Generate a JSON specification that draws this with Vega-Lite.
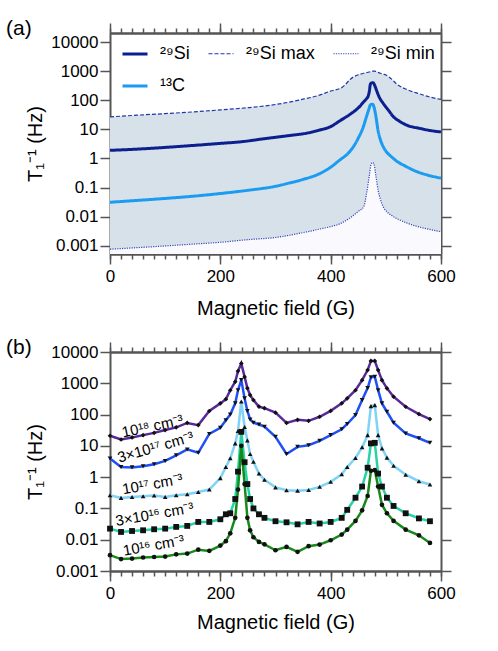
{
"$schema":"https://vega.github.io/schema/vega-lite/v6.json",
"padding":{"left":6,"top":18,"right":5,"bottom":5},
"config":{
 "font":"Liberation Sans",
 "view":{"stroke":null},
 "axis":{"grid":false,"domain":true,"domainColor":"#555","domainWidth":2,"tickColor":"#555","tickWidth":1.5,"labelFlush":false,"labelFont":"Liberation Sans","labelFontSize":17,"labelColor":"#000","titleFont":"Liberation Sans","titleFontSize":20,"titleFontWeight":"normal","titleColor":"#000","zindex":1},
 "legend":{"labelFont":"Liberation Sans","labelFontSize":18,"labelColor":"#000"},
 "title":{"font":"Liberation Sans","fontSize":21,"fontWeight":"normal","color":"#000","anchor":"start","frame":"group"}
},
"resolve":{"scale":{"color":"independent","shape":"independent","strokeDash":"independent","strokeWidth":"independent"}},
"datasets":{
"a":[
{"s":"si_max","B":0,"T":27},{"s":"si_max","B":50,"T":31},{"s":"si_max","B":100,"T":35},{"s":"si_max","B":150,"T":40},{"s":"si_max","B":200,"T":47},{"s":"si_max","B":250,"T":56},{"s":"si_max","B":300,"T":72},{"s":"si_max","B":350,"T":110},{"s":"si_max","B":380,"T":152},{"s":"si_max","B":400,"T":210},{"s":"si_max","B":420,"T":275},{"s":"si_max","B":440,"T":620},{"s":"si_max","B":450,"T":760},{"s":"si_max","B":460,"T":860},{"s":"si_max","B":465,"T":900},{"s":"si_max","B":470,"T":950},{"s":"si_max","B":473,"T":980},{"s":"si_max","B":476,"T":1010},{"s":"si_max","B":479,"T":1020},{"s":"si_max","B":482,"T":990},{"s":"si_max","B":486,"T":920},{"s":"si_max","B":490,"T":860},{"s":"si_max","B":495,"T":800},{"s":"si_max","B":500,"T":750},{"s":"si_max","B":510,"T":550},{"s":"si_max","B":520,"T":360},{"s":"si_max","B":540,"T":230},{"s":"si_max","B":560,"T":170},{"s":"si_max","B":580,"T":130},{"s":"si_max","B":600,"T":108},
{"s":"si_min","B":0,"T":0.00075},{"s":"si_min","B":50,"T":0.00085},{"s":"si_min","B":100,"T":0.00097},{"s":"si_min","B":150,"T":0.00112},{"s":"si_min","B":200,"T":0.0013},{"s":"si_min","B":250,"T":0.0016},{"s":"si_min","B":300,"T":0.0019},{"s":"si_min","B":350,"T":0.0028},{"s":"si_min","B":380,"T":0.0037},{"s":"si_min","B":400,"T":0.0045},{"s":"si_min","B":420,"T":0.006},{"s":"si_min","B":440,"T":0.0105},{"s":"si_min","B":450,"T":0.015},{"s":"si_min","B":460,"T":0.022},{"s":"si_min","B":465,"T":0.06},{"s":"si_min","B":470,"T":0.25},{"s":"si_min","B":473,"T":0.6},{"s":"si_min","B":476,"T":0.73},{"s":"si_min","B":479,"T":0.58},{"s":"si_min","B":482,"T":0.25},{"s":"si_min","B":486,"T":0.08},{"s":"si_min","B":490,"T":0.04},{"s":"si_min","B":495,"T":0.022},{"s":"si_min","B":500,"T":0.016},{"s":"si_min","B":510,"T":0.011},{"s":"si_min","B":520,"T":0.0085},{"s":"si_min","B":540,"T":0.0058},{"s":"si_min","B":560,"T":0.0044},{"s":"si_min","B":580,"T":0.0036},{"s":"si_min","B":600,"T":0.003},
{"s":"si","B":0,"T":1.9},{"s":"si","B":50,"T":2.1},{"s":"si","B":100,"T":2.4},{"s":"si","B":150,"T":2.8},{"s":"si","B":200,"T":3.3},{"s":"si","B":240,"T":3.8},{"s":"si","B":280,"T":4.8},{"s":"si","B":320,"T":6.0},{"s":"si","B":356,"T":7.4},{"s":"si","B":380,"T":9.5},{"s":"si","B":400,"T":12.5},{"s":"si","B":417,"T":20},{"s":"si","B":435,"T":33},{"s":"si","B":450,"T":55},{"s":"si","B":459,"T":85},{"s":"si","B":465,"T":115},{"s":"si","B":468,"T":140},{"s":"si","B":470,"T":200},{"s":"si","B":472,"T":360},{"s":"si","B":474,"T":400},{"s":"si","B":477,"T":405},{"s":"si","B":480,"T":320},{"s":"si","B":483,"T":226},{"s":"si","B":488,"T":130},{"s":"si","B":495,"T":80},{"s":"si","B":505,"T":45},{"s":"si","B":514,"T":27},{"s":"si","B":525,"T":19},{"s":"si","B":538,"T":14},{"s":"si","B":562,"T":10.8},{"s":"si","B":580,"T":9.2},{"s":"si","B":600,"T":8.2},
{"s":"c","B":0,"T":0.031},{"s":"c","B":50,"T":0.036},{"s":"c","B":100,"T":0.042},{"s":"c","B":150,"T":0.05},{"s":"c","B":200,"T":0.062},{"s":"c","B":250,"T":0.08},{"s":"c","B":300,"T":0.11},{"s":"c","B":326,"T":0.144},{"s":"c","B":350,"T":0.19},{"s":"c","B":380,"T":0.3},{"s":"c","B":400,"T":0.5},{"s":"c","B":417,"T":0.9},{"s":"c","B":430,"T":1.4},{"s":"c","B":441,"T":2.5},{"s":"c","B":450,"T":5},{"s":"c","B":459,"T":12},{"s":"c","B":465,"T":28},{"s":"c","B":469,"T":48},{"s":"c","B":472,"T":70},{"s":"c","B":476,"T":74},{"s":"c","B":479,"T":55},{"s":"c","B":482,"T":28},{"s":"c","B":486,"T":9},{"s":"c","B":490,"T":4.5},{"s":"c","B":495,"T":2.6},{"s":"c","B":500,"T":1.8},{"s":"c","B":510,"T":1.15},{"s":"c","B":520,"T":0.8},{"s":"c","B":535,"T":0.55},{"s":"c","B":555,"T":0.36},{"s":"c","B":575,"T":0.27},{"s":"c","B":600,"T":0.21}
],
"b":[
{"s":"18","B":0,"T":21},{"s":"18","B":20,"T":16},{"s":"18","B":40,"T":18.6},{"s":"18","B":60,"T":22},{"s":"18","B":80,"T":26},{"s":"18","B":100,"T":32},{"s":"18","B":120,"T":39},{"s":"18","B":140,"T":54},{"s":"18","B":160,"T":46},{"s":"18","B":180,"T":130},{"s":"18","B":200,"T":228},{"s":"18","B":210,"T":310},{"s":"18","B":218,"T":600},{"s":"18","B":227,"T":1120},{"s":"18","B":232,"T":2450},{"s":"18","B":238,"T":4300},{"s":"18","B":244,"T":1600},{"s":"18","B":249,"T":700},{"s":"18","B":254,"T":420},{"s":"18","B":260,"T":290},{"s":"18","B":270,"T":180},{"s":"18","B":280,"T":160},{"s":"18","B":300,"T":115},{"s":"18","B":320,"T":54},{"s":"18","B":340,"T":68},{"s":"18","B":360,"T":63},{"s":"18","B":380,"T":85},{"s":"18","B":400,"T":131},{"s":"18","B":420,"T":228},{"s":"18","B":430,"T":330},{"s":"18","B":445,"T":600},{"s":"18","B":457,"T":1260},{"s":"18","B":467,"T":2640},{"s":"18","B":473,"T":5200},{"s":"18","B":480,"T":5200},{"s":"18","B":486,"T":2640},{"s":"18","B":493,"T":1260},{"s":"18","B":502,"T":690},{"s":"18","B":514,"T":373},{"s":"18","B":536,"T":178},{"s":"18","B":560,"T":104},{"s":"18","B":580,"T":72},
{"s":"3e17","B":0,"T":3.96},{"s":"3e17","B":20,"T":2.1},{"s":"3e17","B":40,"T":2.05},{"s":"3e17","B":60,"T":2.24},{"s":"3e17","B":80,"T":2.6},{"s":"3e17","B":100,"T":3.3},{"s":"3e17","B":120,"T":5},{"s":"3e17","B":140,"T":7.7},{"s":"3e17","B":160,"T":6},{"s":"3e17","B":180,"T":24},{"s":"3e17","B":200,"T":38},{"s":"3e17","B":210,"T":66},{"s":"3e17","B":218,"T":100},{"s":"3e17","B":227,"T":228},{"s":"3e17","B":232,"T":600},{"s":"3e17","B":238,"T":1260},{"s":"3e17","B":244,"T":330},{"s":"3e17","B":249,"T":130},{"s":"3e17","B":254,"T":70},{"s":"3e17","B":260,"T":55},{"s":"3e17","B":270,"T":48},{"s":"3e17","B":280,"T":41},{"s":"3e17","B":300,"T":19.5},{"s":"3e17","B":320,"T":5.5},{"s":"3e17","B":340,"T":9.3},{"s":"3e17","B":360,"T":10.5},{"s":"3e17","B":380,"T":14.5},{"s":"3e17","B":400,"T":22},{"s":"3e17","B":420,"T":34},{"s":"3e17","B":430,"T":50},{"s":"3e17","B":445,"T":96},{"s":"3e17","B":457,"T":290},{"s":"3e17","B":467,"T":700},{"s":"3e17","B":473,"T":1550},{"s":"3e17","B":480,"T":1620},{"s":"3e17","B":486,"T":600},{"s":"3e17","B":493,"T":228},{"s":"3e17","B":502,"T":123},{"s":"3e17","B":514,"T":55},{"s":"3e17","B":536,"T":25},{"s":"3e17","B":560,"T":17.5},{"s":"3e17","B":580,"T":12.5},
{"s":"17","B":0,"T":0.265},{"s":"17","B":20,"T":0.217},{"s":"17","B":40,"T":0.233},{"s":"17","B":60,"T":0.245},{"s":"17","B":80,"T":0.258},{"s":"17","B":100,"T":0.233},{"s":"17","B":120,"T":0.265},{"s":"17","B":140,"T":0.285},{"s":"17","B":160,"T":0.337},{"s":"17","B":180,"T":0.4},{"s":"17","B":200,"T":0.93},{"s":"17","B":210,"T":2.1},{"s":"17","B":218,"T":4},{"s":"17","B":227,"T":12},{"s":"17","B":232,"T":30},{"s":"17","B":238,"T":260},{"s":"17","B":244,"T":40},{"s":"17","B":249,"T":15},{"s":"17","B":254,"T":5.5},{"s":"17","B":260,"T":3.1},{"s":"17","B":270,"T":1.3},{"s":"17","B":280,"T":0.82},{"s":"17","B":300,"T":0.47},{"s":"17","B":320,"T":0.38},{"s":"17","B":340,"T":0.37},{"s":"17","B":360,"T":0.39},{"s":"17","B":380,"T":0.49},{"s":"17","B":400,"T":0.71},{"s":"17","B":420,"T":1.24},{"s":"17","B":430,"T":2.1},{"s":"17","B":445,"T":4.1},{"s":"17","B":457,"T":9},{"s":"17","B":467,"T":22},{"s":"17","B":473,"T":186},{"s":"17","B":480,"T":200},{"s":"17","B":486,"T":22},{"s":"17","B":493,"T":8.3},{"s":"17","B":502,"T":4.2},{"s":"17","B":514,"T":2.3},{"s":"17","B":536,"T":1.2},{"s":"17","B":560,"T":0.74},{"s":"17","B":580,"T":0.58},
{"s":"3e16","B":0,"T":0.0226},{"s":"3e16","B":20,"T":0.0177},{"s":"3e16","B":40,"T":0.019},{"s":"3e16","B":60,"T":0.02},{"s":"3e16","B":80,"T":0.0216},{"s":"3e16","B":100,"T":0.0226},{"s":"3e16","B":120,"T":0.0257},{"s":"3e16","B":140,"T":0.0276},{"s":"3e16","B":160,"T":0.037},{"s":"3e16","B":180,"T":0.037},{"s":"3e16","B":200,"T":0.045},{"s":"3e16","B":210,"T":0.065},{"s":"3e16","B":218,"T":0.07},{"s":"3e16","B":227,"T":0.2},{"s":"3e16","B":232,"T":1.5},{"s":"3e16","B":238,"T":28},{"s":"3e16","B":244,"T":3},{"s":"3e16","B":249,"T":0.6},{"s":"3e16","B":254,"T":0.2},{"s":"3e16","B":260,"T":0.1},{"s":"3e16","B":270,"T":0.065},{"s":"3e16","B":280,"T":0.05},{"s":"3e16","B":300,"T":0.039},{"s":"3e16","B":320,"T":0.036},{"s":"3e16","B":340,"T":0.031},{"s":"3e16","B":360,"T":0.037},{"s":"3e16","B":380,"T":0.033},{"s":"3e16","B":400,"T":0.037},{"s":"3e16","B":420,"T":0.05},{"s":"3e16","B":430,"T":0.09},{"s":"3e16","B":445,"T":0.22},{"s":"3e16","B":457,"T":0.5},{"s":"3e16","B":467,"T":2},{"s":"3e16","B":473,"T":12},{"s":"3e16","B":480,"T":12.5},{"s":"3e16","B":486,"T":1.3},{"s":"3e16","B":493,"T":0.5},{"s":"3e16","B":502,"T":0.22},{"s":"3e16","B":514,"T":0.12},{"s":"3e16","B":536,"T":0.07},{"s":"3e16","B":560,"T":0.048},{"s":"3e16","B":580,"T":0.039},
{"s":"16","B":0,"T":0.0032},{"s":"16","B":20,"T":0.0024},{"s":"16","B":40,"T":0.0025},{"s":"16","B":60,"T":0.0027},{"s":"16","B":80,"T":0.0028},{"s":"16","B":100,"T":0.0029},{"s":"16","B":120,"T":0.0034},{"s":"16","B":140,"T":0.0036},{"s":"16","B":160,"T":0.0048},{"s":"16","B":180,"T":0.0044},{"s":"16","B":200,"T":0.0065},{"s":"16","B":210,"T":0.009},{"s":"16","B":218,"T":0.016},{"s":"16","B":227,"T":0.05},{"s":"16","B":232,"T":0.4},{"s":"16","B":238,"T":10},{"s":"16","B":244,"T":0.6},{"s":"16","B":249,"T":0.05},{"s":"16","B":254,"T":0.02},{"s":"16","B":260,"T":0.012},{"s":"16","B":270,"T":0.0085},{"s":"16","B":280,"T":0.0071},{"s":"16","B":300,"T":0.0046},{"s":"16","B":320,"T":0.0059},{"s":"16","B":340,"T":0.0041},{"s":"16","B":360,"T":0.0062},{"s":"16","B":380,"T":0.007},{"s":"16","B":400,"T":0.0096},{"s":"16","B":420,"T":0.0146},{"s":"16","B":430,"T":0.021},{"s":"16","B":445,"T":0.04},{"s":"16","B":457,"T":0.087},{"s":"16","B":467,"T":0.25},{"s":"16","B":473,"T":1.6},{"s":"16","B":480,"T":1.67},{"s":"16","B":486,"T":0.5},{"s":"16","B":493,"T":0.13},{"s":"16","B":502,"T":0.07},{"s":"16","B":514,"T":0.04},{"s":"16","B":536,"T":0.021},{"s":"16","B":560,"T":0.0138},{"s":"16","B":580,"T":0.0079}
],
"lab":[
{"s":"18","B":77,"T":42.8,"label":"10¹⁸ cm⁻³"},
{"s":"3e17","B":82.5,"T":9.1,"label":"3×10¹⁷ cm⁻³"},
{"s":"17","B":77,"T":0.6,"label":"10¹⁷ cm⁻³"},
{"s":"3e16","B":80.7,"T":0.065,"label":"3×10¹⁶ cm⁻³"},
{"s":"16","B":79,"T":0.0066,"label":"10¹⁶ cm⁻³"}
]
},
"bounds":"flush",
"spacing":98,
"vconcat":[
{
 "title":{"text":"(a)","dx":-104,"dy":34,"offset":0,"baseline":"alphabetic"},
 "width":331,"height":221,
 "resolve":{"axis":{"x":"independent","y":"independent"}},
 "layer":[
  {
   "data":{"name":"a"},
   "transform":[{"filter":"datum.s === 'si_max' || datum.s === 'si_min'"},{"pivot":"s","value":"T","groupby":["B"]}],
   "mark":{"type":"area","interpolate":"monotone","color":"#d7e1ea"},
   "encoding":{
    "x":{"field":"B","type":"quantitative","scale":{"domain":[0,600],"nice":false,"zero":false},"axis":{"orient":"bottom","values":[0,200,400,600],"tickSize":10,"labelPadding":4,"title":"Magnetic field (G)","titlePadding":14}},
    "y":{"field":"si_max","type":"quantitative","scale":{"type":"log","domain":[0.000513,20900],"nice":false},"axis":{"orient":"left","values":[0.001,0.01,0.1,1,10,100,1000,10000],"format":"~g","tickSize":10,"labelPadding":2,"title":"T₁⁻¹ (Hz)","titlePadding":5}},
    "y2":{"field":"si_min"}
   }
  },
  {
   "data":{"name":"a"},
   "transform":[{"filter":"datum.s === 'si_max' || datum.s === 'si_min'"},{"pivot":"s","value":"T","groupby":["B"]}],
   "mark":{"type":"area","interpolate":"monotone","color":"#fafafe"},
   "encoding":{
    "x":{"field":"B","type":"quantitative","scale":{"domain":[0,600],"nice":false,"zero":false},"axis":{"orient":"bottom","values":[0,20,40,60,80,100,120,140,160,180,200,220,240,260,280,300,320,340,360,380,400,420,440,460,480,500,520,540,560,580,600],"tickSize":5,"labels":false,"title":null}},
    "y":{"field":"si_min","type":"quantitative","scale":{"type":"log","domain":[0.000513,20900],"nice":false},"axis":{"orient":"right","values":[0.001,0.01,0.1,1,10,100,1000,10000],"tickSize":10,"labels":false,"title":null}},
    "y2":{"datum":0.000513}
   }
  },
  {
   "data":{"name":"a"},
   "transform":[{"filter":"datum.s === 'si_max' || datum.s === 'si_min'"}],
   "mark":{"type":"line","interpolate":"monotone"},
   "encoding":{
    "x":{"field":"B","type":"quantitative","scale":{"domain":[0,600],"nice":false,"zero":false},"axis":{"orient":"top","values":[0,20,40,60,80,100,120,140,160,180,200,220,240,260,280,300,320,340,360,380,400,420,440,460,480,500,520,540,560,580,600],"tickSize":5,"labels":false,"title":null}},
    "y":{"field":"T","type":"quantitative","scale":{"type":"log","domain":[0.000513,20900],"nice":false},"axis":null},
    "color":{"field":"s","type":"nominal","scale":{"domain":["si","si_max","si_min","c"],"range":["#0b1f8e","#2236a8","#3346b8","#1b9cf0"]},"legend":{"title":null,"values":["si","si_min","si_max","c"],"orient":"none","legendX":11,"legendY":7,"columns":3,"symbolType":"stroke","symbolSize":625,"labelOffset":11,"columnPadding":16,"rowPadding":9,"padding":0,"labelExpr":"datum.value === 'si' ? '²⁹Si' : datum.value === 'si_max' ? '²⁹Si max' : datum.value === 'si_min' ? '²⁹Si min' : '¹³C'"}},
    "strokeDash":{"field":"s","type":"nominal","scale":{"domain":["si","si_max","si_min","c"],"range":[[1,0],[4,2],[1.2,1.2],[1,0]]},"legend":{"title":null,"values":["si","si_min","si_max","c"],"orient":"none","legendX":11,"legendY":7,"columns":3,"symbolType":"stroke","symbolSize":625,"labelOffset":11,"columnPadding":16,"rowPadding":9,"padding":0,"labelExpr":"datum.value === 'si' ? '²⁹Si' : datum.value === 'si_max' ? '²⁹Si max' : datum.value === 'si_min' ? '²⁹Si min' : '¹³C'"}},
    "strokeWidth":{"field":"s","type":"nominal","scale":{"type":"ordinal","domain":["si","si_max","si_min","c"],"range":[3,1.2,1.2,3]},"legend":{"title":null,"values":["si","si_min","si_max","c"],"orient":"none","legendX":11,"legendY":7,"columns":3,"symbolType":"stroke","symbolSize":625,"labelOffset":11,"columnPadding":16,"rowPadding":9,"padding":0,"labelExpr":"datum.value === 'si' ? '²⁹Si' : datum.value === 'si_max' ? '²⁹Si max' : datum.value === 'si_min' ? '²⁹Si min' : '¹³C'"}}
   }
  },
  {
   "data":{"name":"a"},
   "transform":[{"filter":"datum.s === 'si' || datum.s === 'c'"}],
   "mark":{"type":"line","interpolate":"monotone"},
   "encoding":{
    "x":{"field":"B","type":"quantitative","scale":{"domain":[0,600],"nice":false,"zero":false},"axis":{"orient":"top","values":[0,200,400,600],"tickSize":10,"labels":false,"title":null}},
    "y":{"field":"T","type":"quantitative","scale":{"type":"log","domain":[0.000513,20900],"nice":false},"axis":null},
    "color":{"field":"s","type":"nominal","scale":{"domain":["si","si_max","si_min","c"],"range":["#0b1f8e","#2236a8","#3346b8","#1b9cf0"]},"legend":{"title":null,"values":["si","si_min","si_max","c"],"orient":"none","legendX":11,"legendY":7,"columns":3,"symbolType":"stroke","symbolSize":625,"labelOffset":11,"columnPadding":16,"rowPadding":9,"padding":0,"labelExpr":"datum.value === 'si' ? '²⁹Si' : datum.value === 'si_max' ? '²⁹Si max' : datum.value === 'si_min' ? '²⁹Si min' : '¹³C'"}},
    "strokeDash":{"field":"s","type":"nominal","scale":{"domain":["si","si_max","si_min","c"],"range":[[1,0],[4,2],[1.2,1.2],[1,0]]},"legend":{"title":null,"values":["si","si_min","si_max","c"],"orient":"none","legendX":11,"legendY":7,"columns":3,"symbolType":"stroke","symbolSize":625,"labelOffset":11,"columnPadding":16,"rowPadding":9,"padding":0,"labelExpr":"datum.value === 'si' ? '²⁹Si' : datum.value === 'si_max' ? '²⁹Si max' : datum.value === 'si_min' ? '²⁹Si min' : '¹³C'"}},
    "strokeWidth":{"field":"s","type":"nominal","scale":{"type":"ordinal","domain":["si","si_max","si_min","c"],"range":[3,1.2,1.2,3]},"legend":{"title":null,"values":["si","si_min","si_max","c"],"orient":"none","legendX":11,"legendY":7,"columns":3,"symbolType":"stroke","symbolSize":625,"labelOffset":11,"columnPadding":16,"rowPadding":9,"padding":0,"labelExpr":"datum.value === 'si' ? '²⁹Si' : datum.value === 'si_max' ? '²⁹Si max' : datum.value === 'si_min' ? '²⁹Si min' : '¹³C'"}}
   }
  }
 ]
},
{
 "title":{"text":"(b)","dx":-104,"dy":34,"offset":0,"baseline":"alphabetic"},
 "width":331,"height":219,
 "resolve":{"axis":{"x":"independent","y":"independent"}},
 "layer":[
  {
   "data":{"name":"b"},
   "mark":{"type":"line","strokeWidth":2.5},
   "encoding":{
    "x":{"field":"B","type":"quantitative","scale":{"domain":[0,600],"nice":false,"zero":false},"axis":{"orient":"bottom","values":[0,200,400,600],"tickSize":10,"labelPadding":4,"title":"Magnetic field (G)","titlePadding":11}},
    "y":{"field":"T","type":"quantitative","scale":{"type":"log","domain":[0.001,10000],"nice":false},"axis":{"orient":"left","values":[0.001,0.01,0.1,1,10,100,1000,10000],"format":"~g","tickSize":10,"labelPadding":2,"title":"T₁⁻¹ (Hz)","titlePadding":5}},
    "color":{"field":"s","type":"nominal","scale":{"domain":["18","3e17","17","3e16","16"],"range":["#58299a","#1f50f5","#7fd3f7","#26d3a6","#168a1a"]},"legend":null}
   }
  },
  {
   "data":{"name":"b"},
   "transform":[{"filter":"datum.s !== '3e16'"}],
   "mark":{"type":"point","filled":true,"color":"#111","size":22,"opacity":1},
   "encoding":{
    "x":{"field":"B","type":"quantitative","scale":{"domain":[0,600],"nice":false,"zero":false},"axis":{"orient":"bottom","values":[0,20,40,60,80,100,120,140,160,180,200,220,240,260,280,300,320,340,360,380,400,420,440,460,480,500,520,540,560,580,600],"tickSize":5,"labels":false,"title":null}},
    "y":{"field":"T","type":"quantitative","scale":{"type":"log","domain":[0.001,10000],"nice":false},"axis":{"orient":"right","values":[0.001,0.01,0.1,1,10,100,1000,10000],"tickSize":10,"labels":false,"title":null}},
    "shape":{"field":"s","type":"nominal","scale":{"domain":["18","3e17","17","16"],"range":["diamond","triangle-down","triangle-up","circle"]},"legend":null}
   }
  },
  {
   "data":{"name":"b"},
   "transform":[{"filter":"datum.s === '3e16'"}],
   "mark":{"type":"square","color":"#111","size":34,"opacity":1},
   "encoding":{
    "x":{"field":"B","type":"quantitative","scale":{"domain":[0,600],"nice":false,"zero":false},"axis":{"orient":"top","values":[0,20,40,60,80,100,120,140,160,180,200,220,240,260,280,300,320,340,360,380,400,420,440,460,480,500,520,540,560,580,600],"tickSize":5,"labels":false,"title":null}},
    "y":{"field":"T","type":"quantitative","scale":{"type":"log","domain":[0.001,10000],"nice":false},"axis":null}
   }
  },
  {
   "data":{"name":"lab"},
   "transform":[{"filter":"datum.s === '18'"}],
   "mark":{"type":"text","angle":348,"fontSize":15,"color":"#000","align":"center","baseline":"middle"},
   "encoding":{
    "x":{"field":"B","type":"quantitative","scale":{"domain":[0,600],"nice":false,"zero":false},"axis":{"orient":"top","values":[0,200,400,600],"tickSize":10,"labels":false,"title":null}},
    "y":{"field":"T","type":"quantitative","scale":{"type":"log","domain":[0.001,10000],"nice":false},"axis":null},
    "text":{"field":"label"}
   }
  },
  {
   "data":{"name":"lab"},
   "transform":[{"filter":"datum.s === '3e17'"}],
   "mark":{"type":"text","angle":344,"fontSize":15,"color":"#000","align":"center","baseline":"middle"},
   "encoding":{
    "x":{"field":"B","type":"quantitative","scale":{"domain":[0,600],"nice":false,"zero":false},"axis":null},
    "y":{"field":"T","type":"quantitative","scale":{"type":"log","domain":[0.001,10000],"nice":false},"axis":null},
    "text":{"field":"label"}
   }
  },
  {
   "data":{"name":"lab"},
   "transform":[{"filter":"datum.s === '17' || datum.s === '3e16' || datum.s === '16'"}],
   "mark":{"type":"text","angle":350,"fontSize":15,"color":"#000","align":"center","baseline":"middle"},
   "encoding":{
    "x":{"field":"B","type":"quantitative","scale":{"domain":[0,600],"nice":false,"zero":false},"axis":null},
    "y":{"field":"T","type":"quantitative","scale":{"type":"log","domain":[0.001,10000],"nice":false},"axis":null},
    "text":{"field":"label"}
   }
  }
 ]
}
]
}
